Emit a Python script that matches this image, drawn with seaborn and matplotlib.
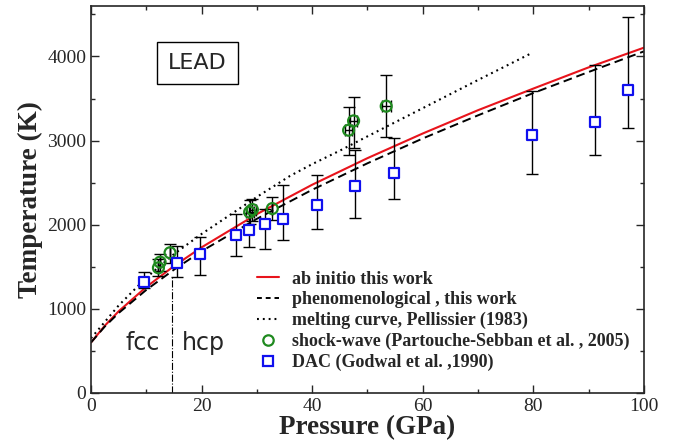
import matplotlib
matplotlib.use("Agg")
import matplotlib.pyplot as plt
import seaborn as sns
from matplotlib.lines import Line2D
from matplotlib.ticker import MultipleLocator

# melting curves (pressure in GPa, temperature in K)
p_curve = [0, 2.5, 5, 10, 15, 20, 30, 40, 50, 60, 70, 80, 90, 100]
t_abinitio = [600, 800, 971, 1260, 1508, 1731, 2126, 2475, 2791, 3084, 3361, 3618, 3870, 4104]
t_phenom = [600, 790, 950, 1225, 1465, 1685, 2070, 2415, 2730, 3025, 3300, 3565, 3815, 4060]

p_pell = [0, 5, 10, 15, 20, 25, 30, 36, 40, 45, 50, 60, 70, 79.4]
t_pell = [650, 1040, 1370, 1650, 1890, 2110, 2330, 2580, 2720, 2880, 3050, 3385, 3720, 4030]

# shock-wave data (Partouche-Sebban et al. 2005)
p_shock = [12.2, 12.5, 14.3, 28.7, 29.2, 32.8, 46.6, 47.5, 53.4]
t_shock = [1488, 1555, 1667, 2150, 2180, 2192, 3123, 3234, 3409]
t_shock_lo = [1388, 1450, 1548, 2010, 2040, 2052, 2832, 2908, 3039]
t_shock_hi = [1590, 1655, 1766, 2290, 2310, 2330, 3397, 3517, 3783]
p_shock_err = [0, 0, 0, 0.7, 0.7, 0, 0.7, 0.7, 0.8]

# DAC data (Godwal et al. 1990)
p_dac = [9.6, 15.6, 19.7, 26.3, 28.6, 31.5, 34.7, 40.8, 47.8, 54.9, 79.7, 91.2, 97.2]
t_dac = [1325, 1540, 1655, 1877, 1933, 2008, 2073, 2240, 2458, 2617, 3070, 3222, 3607]
t_dac_lo = [1250, 1375, 1405, 1627, 1734, 1710, 1817, 1953, 2085, 2311, 2601, 2832, 3154]
t_dac_hi = [1440, 1745, 1853, 2124, 2140, 2184, 2474, 2593, 2891, 3027, 3588, 3898, 4471]

p_transition = 14.7  # fcc -> hcp

sns.set_style("ticks")
plt.rcParams["font.family"] = ["Liberation Serif", "DejaVu Serif"]

fig, ax = plt.subplots(figsize=(6.77, 4.43), dpi=100)
fig.subplots_adjust(left=0.1344, right=0.951, bottom=0.1129, top=0.9865)

red = "#e8141c"
green = "#1f8a1f"
blue = "#1010ee"

sns.lineplot(x=p_curve, y=t_abinitio, color=red, lw=1.5, ax=ax, sort=False, estimator=None)
sns.lineplot(x=p_curve, y=t_phenom, color="black", lw=1.4, ax=ax, sort=False, estimator=None,
             linestyle=(0, (4.5, 2.5)))
sns.lineplot(x=p_pell, y=t_pell, color="black", lw=1.5, ax=ax, sort=False, estimator=None,
             linestyle=(0, (0.9, 1.9)))

ax.plot([p_transition, p_transition], [0, 1380], color="black", lw=0.8, linestyle="-.")

# error bars
dac_err = [[t - lo for t, lo in zip(t_dac, t_dac_lo)], [hi - t for t, hi in zip(t_dac, t_dac_hi)]]
shock_err = [[t - lo for t, lo in zip(t_shock, t_shock_lo)], [hi - t for t, hi in zip(t_shock, t_shock_hi)]]
ax.errorbar(p_dac, t_dac, yerr=dac_err, fmt="none", ecolor="black", elinewidth=1.0, capsize=4, capthick=1.0, zorder=3)
ax.errorbar(p_shock, t_shock, yerr=shock_err, xerr=p_shock_err, fmt="none", ecolor="black",
            elinewidth=1.0, capsize=4, capthick=1.0, zorder=3)

sns.scatterplot(x=p_shock, y=t_shock, marker="o", s=62, facecolor="none", edgecolor=green,
                linewidth=1.6, ax=ax, zorder=4)
sns.scatterplot(x=p_dac, y=t_dac, marker="s", s=60, facecolor="white", edgecolor=blue,
                linewidth=1.6, ax=ax, zorder=4)

ax.set_xlim(0, 100)
ax.set_ylim(0, 4600)
ax.xaxis.set_major_locator(MultipleLocator(20))
ax.xaxis.set_minor_locator(MultipleLocator(10))
ax.yaxis.set_major_locator(MultipleLocator(1000))
ax.yaxis.set_minor_locator(MultipleLocator(500))
ax.tick_params(which="both", direction="in", top=True, right=True, width=1.0, labelsize=14)
ax.tick_params(which="major", length=6)
ax.tick_params(which="minor", length=3)
for s in ax.spines.values():
    s.set_linewidth(1.2)

ax.set_xlabel("Pressure (GPa)", fontsize=19.5, fontweight="bold", labelpad=0)
ax.set_ylabel("Temperature (K)", fontsize=19.5, fontweight="bold", labelpad=3)

ax.text(19.2, 3920, "LEAD", fontsize=16, family="DejaVu Sans", ha="center", va="center",
        bbox=dict(boxstyle="square,pad=0.5", facecolor="white", edgecolor="black", lw=1.0))
ax.text(9.4, 595, "fcc", fontsize=17, family="DejaVu Sans", ha="center", va="center")
ax.text(20.4, 595, "hcp", fontsize=17, family="DejaVu Sans", ha="center", va="center")

handles = [
    Line2D([], [], color=red, lw=1.5),
    Line2D([], [], color="black", lw=1.4, linestyle=(0, (2.5, 2.0))),
    Line2D([], [], color="black", lw=1.5, linestyle=(0, (0.9, 1.9))),
    Line2D([], [], marker="o", ls="none", markersize=7.5, markerfacecolor="none", markeredgecolor=green, markeredgewidth=1.6),
    Line2D([], [], marker="s", ls="none", markersize=7, markerfacecolor="none", markeredgecolor=blue, markeredgewidth=1.6),
]
labels = [
    "ab initio this work",
    "phenomenological , this work",
    "melting curve, Pellissier (1983)",
    "shock-wave (Partouche-Sebban et al. , 2005)",
    "DAC (Godwal et al. ,1990)",
]
ax.legend(handles, labels, loc="upper left", bbox_to_anchor=(0.300, 0.316), frameon=False,
          prop={"weight": "bold", "size": 13}, handlelength=1.25, handletextpad=0.67,
          labelspacing=0.2, borderpad=0, borderaxespad=0)

fig.savefig("out.png", dpi=100)
